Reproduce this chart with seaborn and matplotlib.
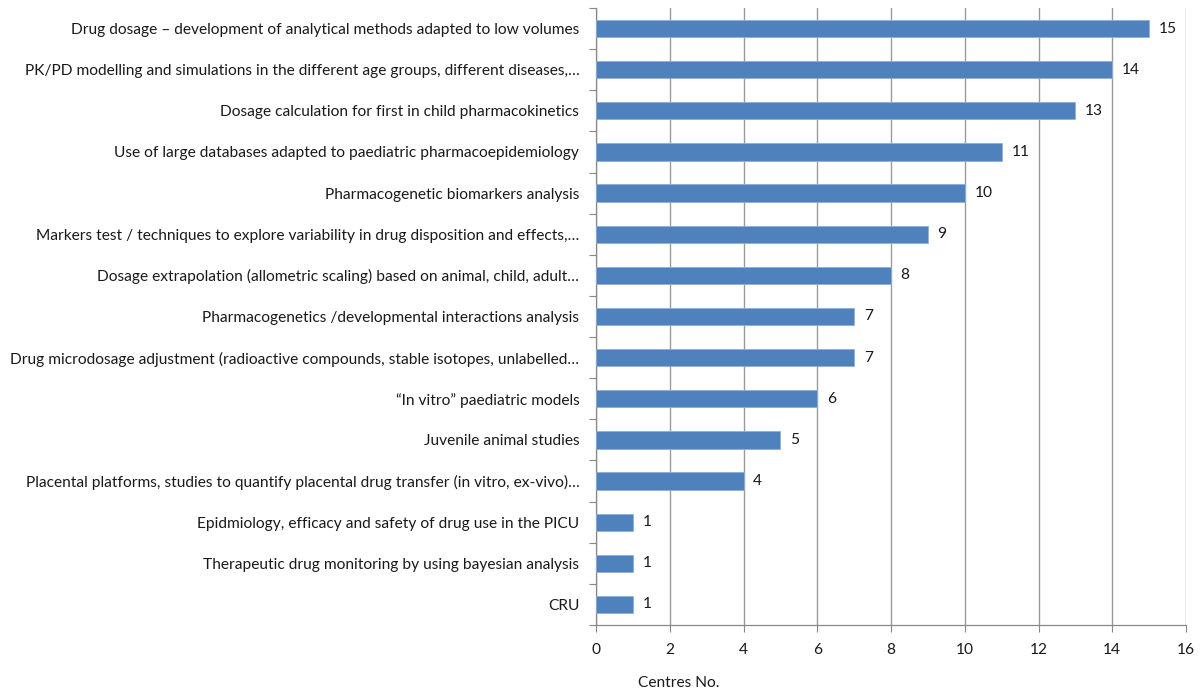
import matplotlib
matplotlib.use("Agg")
import matplotlib.pyplot as plt
import seaborn as sns
import pandas as pd
import numpy as np
from matplotlib.ticker import FixedLocator

categories = [
    "Drug dosage \u2013 development of analytical methods adapted to low volumes",
    "PK/PD modelling and simulations in the different age groups, different diseases,\u2026",
    "Dosage calculation for first in child pharmacokinetics",
    "Use of large databases adapted to paediatric pharmacoepidemiology",
    "Pharmacogenetic biomarkers analysis",
    "Markers test / techniques to explore variability in drug disposition and effects,\u2026",
    "Dosage extrapolation (allometric scaling) based on animal, child, adult\u2026",
    "Pharmacogenetics /developmental interactions analysis",
    "Drug microdosage adjustment (radioactive compounds, stable isotopes, unlabelled\u2026",
    "\u201cIn vitro\u201d paediatric models",
    "Juvenile animal studies",
    "Placental platforms, studies to quantify placental drug transfer (in vitro, ex-vivo)\u2026",
    "Epidmiology, efficacy and safety of drug use in the PICU",
    "Therapeutic drug monitoring by using bayesian analysis",
    "CRU",
]
values = [15, 14, 13, 11, 10, 9, 8, 7, 7, 6, 5, 4, 1, 1, 1]
x_ticks = [0, 2, 4, 6, 8, 10, 12, 14, 16]
x_label = "Centres No."

sns.set_theme(style="white")
plt.rcParams['font.family'] = ['Lato', 'DejaVu Sans']

FS = 11.2
TXT = "#1a1a1a"

df = pd.DataFrame({"category": categories, "value": values})

fig = plt.figure(figsize=(12.04, 6.92), dpi=100)
ax = fig.add_axes([596/1204, 1 - 625/692, (1186-596)/1204, (625-8)/692])

sns.barplot(data=df, y="category", x="value", orient="h", color="#4F81BD",
            saturation=1, width=0.42, edgecolor="#8FB0DA", linewidth=0.6, ax=ax, zorder=3)

ax.set_xlim(0, 16)
ax.set_ylim(len(categories) - 0.5, -0.5)
ax.set_xticks(x_ticks)
ax.set_xticklabels([str(t) for t in x_ticks], fontsize=FS, color=TXT)
ax.tick_params(axis="x", which="major", length=5, width=0.8, color="#888888", pad=8, direction="out", bottom=True)
ax.xaxis.grid(True, color="#9A9A9A", linewidth=1.0, zorder=0)
ax.set_axisbelow(True)

ax.set_yticks(range(len(categories)))
ax.set_yticklabels(categories, fontsize=FS, color=TXT)
ax.tick_params(axis="y", which="major", length=0, pad=12)
ax.yaxis.set_minor_locator(FixedLocator(np.arange(-0.5, len(categories), 1.0)))
ax.tick_params(axis="y", which="minor", length=5, width=0.8, color="#888888", left=True, direction="out")

ax.set_xlabel("")
ax.set_ylabel("")
for s in ["top", "right"]:
    ax.spines[s].set_visible(False)
for s in ["left", "bottom"]:
    ax.spines[s].set_color("#888888")
    ax.spines[s].set_linewidth(0.9)

for i, v in enumerate(values):
    ax.annotate(str(v), xy=(v, i), xytext=(7, 0), textcoords="offset points",
                va="center", ha="left", fontsize=FS, color=TXT)

fig.text(679/1204, 1 - 683/692, x_label, ha="center", va="center", fontsize=FS, color=TXT)

fig.savefig("out.png", dpi=100)
